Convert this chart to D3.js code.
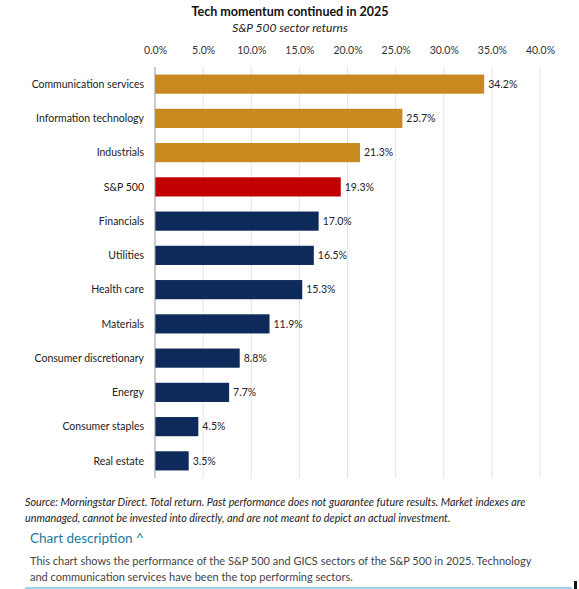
<!DOCTYPE html><html><head><meta charset="utf-8">
<script src="https://cdn.jsdelivr.net/npm/d3@7"></script>
<style>body{margin:0;background:#fff}</style></head><body>
<svg id="c" width="579" height="589"></svg>
<script>
const categories=["Communication services","Information technology","Industrials","S&P 500","Financials","Utilities","Health care","Materials","Consumer discretionary","Energy","Consumer staples","Real estate"];
const values=[34.2,25.7,21.3,19.3,17.0,16.5,15.3,11.9,8.8,7.7,4.5,3.5];
const groups=["top","top","top","index","other","other","other","other","other","other","other","other"];
const ticks=[0,5,10,15,20,25,30,35,40];
const colors={top:"#C8891E",index:"#C00000",other:"#0E2A5A"};
const svg=d3.select("#c");
const F="Lato, 'Open Sans', sans-serif";
const x=d3.scaleLinear().domain([0,40]).range([155,540]);
const y=d3.scaleBand().domain(categories).range([67,478]).paddingInner(0.44).paddingOuter(0.22);
svg.append("text").attr("x",290).attr("y",16).attr("text-anchor","middle").attr("font-family",F).attr("font-weight","bold").attr("font-size",12.5).attr("fill","#111").text("Tech momentum continued in 2025");
svg.append("text").attr("x",290).attr("y",32).attr("text-anchor","middle").attr("font-family",F).attr("font-style","italic").attr("font-size",12).attr("fill","#222").text("S&P 500 sector returns");
const ax=svg.append("g").attr("transform","translate(0,57)").call(d3.axisTop(x).tickValues(ticks).tickFormat(d=>d.toFixed(1)+"%").tickSize(0));
ax.select(".domain").remove();
ax.selectAll("text").attr("font-family",F).attr("font-size",10.5).attr("fill","#333");
svg.append("g").selectAll("line").data(ticks.slice(1)).join("line").attr("x1",d=>x(d)).attr("x2",d=>x(d)).attr("y1",67).attr("y2",478).attr("stroke","#e4e4e4");
svg.append("g").selectAll("rect").data(categories).join("rect").attr("x",x(0)).attr("y",d=>y(d)).attr("width",(d,i)=>x(values[i])-x(0)).attr("height",y.bandwidth()).attr("fill",(d,i)=>colors[groups[i]]);
svg.append("line").attr("x1",x(0)).attr("x2",x(0)).attr("y1",67).attr("y2",478).attr("stroke","#999");
svg.append("g").selectAll("text").data(categories).join("text").attr("x",144).attr("y",d=>y(d)+y.bandwidth()/2).attr("dy","0.35em").attr("text-anchor","end").attr("font-family",F).attr("font-size",10.5).attr("fill","#222").text(d=>d);
svg.append("g").selectAll("text").data(categories).join("text").attr("x",(d,i)=>x(values[i])+4).attr("y",d=>y(d)+y.bandwidth()/2).attr("dy","0.35em").attr("font-family",F).attr("font-size",10.5).attr("fill","#222").text((d,i)=>values[i].toFixed(1)+"%");
const src=["Source: Morningstar Direct. Total return. Past performance does not guarantee future results. Market indexes are","unmanaged, cannot be invested into directly, and are not meant to depict an actual investment."];
src.forEach((t,i)=>svg.append("text").attr("x",25).attr("y",506+i*16).attr("font-family",F).attr("font-style","italic").attr("font-size",10.8).attr("fill","#222").text(t));
svg.append("text").attr("x",30).attr("y",543).attr("font-family",F).attr("font-size",13.5).attr("fill","#1A7A9C").text("Chart description ^");
const desc=["This chart shows the performance of the S&P 500 and GICS sectors of the S&P 500 in 2025. Technology","and communication services have been the top performing sectors."];
desc.forEach((t,i)=>svg.append("text").attr("x",30).attr("y",565+i*16).attr("font-family",F).attr("font-size",11).attr("fill","#444").text(t));
svg.append("line").attr("x1",25).attr("x2",572).attr("y1",588).attr("y2",588).attr("stroke","#7fc4e4").attr("stroke-width",1.5);
svg.append("rect").attr("x",574).attr("y",581).attr("width",3).attr("height",8).attr("fill","#111");
</script></body></html>
